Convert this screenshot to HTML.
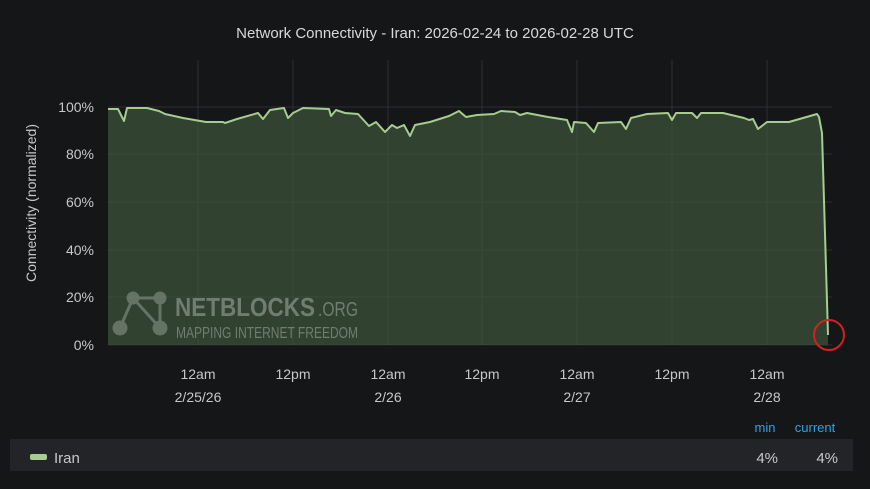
<!DOCTYPE html>
<html><head><style>
body{margin:0;background:#151618;width:870px;height:489px;overflow:hidden;font-family:"Liberation Sans",sans-serif;}
</style></head><body>
<svg width="870" height="489" xmlns="http://www.w3.org/2000/svg" style="position:absolute;left:0;top:0">
<rect width="870" height="489" fill="#151618"/>
<text x="435" y="38" fill="#d8d9da" font-size="15" text-anchor="middle">Network Connectivity - Iran: 2026-02-24 to 2026-02-28 UTC</text>
<g stroke="#2e2f33" stroke-width="1">
<line x1="108" y1="107" x2="832" y2="107"/><line x1="108" y1="154" x2="832" y2="154"/><line x1="108" y1="202" x2="832" y2="202"/><line x1="108" y1="250" x2="832" y2="250"/><line x1="108" y1="297" x2="832" y2="297"/><line x1="108" y1="345" x2="832" y2="345"/>
<line x1="198" y1="60" x2="198" y2="345"/><line x1="293" y1="60" x2="293" y2="345"/><line x1="388" y1="60" x2="388" y2="345"/><line x1="482" y1="60" x2="482" y2="345"/><line x1="577" y1="60" x2="577" y2="345"/><line x1="672" y1="60" x2="672" y2="345"/><line x1="767" y1="60" x2="767" y2="345"/>
</g>
<g fill="#c7c8c9" font-size="14" text-anchor="end">
<text x="94" y="112">100%</text><text x="94" y="159">80%</text><text x="94" y="207">60%</text><text x="94" y="255">40%</text><text x="94" y="302">20%</text><text x="94" y="350">0%</text>
</g>
<text transform="translate(36,203) rotate(-90)" fill="#c7c8c9" font-size="14" text-anchor="middle">Connectivity (normalized)</text>
<g fill="#c7c8c9" font-size="14" text-anchor="middle">
<text x="198" y="379">12am</text><text x="198" y="402">2/25/26</text>
<text x="293" y="379">12pm</text>
<text x="388" y="379">12am</text><text x="388" y="402">2/26</text>
<text x="482" y="379">12pm</text>
<text x="577" y="379">12am</text><text x="577" y="402">2/27</text>
<text x="672" y="379">12pm</text>
<text x="767" y="379">12am</text><text x="767" y="402">2/28</text>
</g>
<path fill="#3d563a" fill-opacity="0.7" d="M108,109 L118,109 L124,121 L127,108 L147,108 L159,111 L165,114 L183,118 L206,122 L223,122 L225,123 L237,119 L258,113 L263,119 L270,110 L284,108 L288,118 L293,113 L303,108 L329,109 L331,116 L336,110 L345,113 L358,114 L369,126 L376,122 L385,132 L392,125 L397,128 L404,125 L410,136 L415,125 L430,122 L449,116 L459,111 L466,117 L477,115 L494,114 L501,111 L515,112 L520,115 L527,113 L548,117 L567,120 L572,132 L574,122 L586,123 L594,132 L598,123 L621,122 L626,129 L631,118 L647,114 L668,113 L672,120 L676,113 L692,113 L697,118 L701,113 L723,113 L744,118 L749,120 L753,119 L758,129 L767,122 L789,122 L803,118 L817,114 L819,117 L822,133 L828,335 L828,345 L108,345 Z"/>
<path fill="none" stroke="#a6cc8f" stroke-width="2" stroke-linejoin="round" d="M108,109 L118,109 L124,121 L127,108 L147,108 L159,111 L165,114 L183,118 L206,122 L223,122 L225,123 L237,119 L258,113 L263,119 L270,110 L284,108 L288,118 L293,113 L303,108 L329,109 L331,116 L336,110 L345,113 L358,114 L369,126 L376,122 L385,132 L392,125 L397,128 L404,125 L410,136 L415,125 L430,122 L449,116 L459,111 L466,117 L477,115 L494,114 L501,111 L515,112 L520,115 L527,113 L548,117 L567,120 L572,132 L574,122 L586,123 L594,132 L598,123 L621,122 L626,129 L631,118 L647,114 L668,113 L672,120 L676,113 L692,113 L697,118 L701,113 L723,113 L744,118 L749,120 L753,119 L758,129 L767,122 L789,122 L803,118 L817,114 L819,117 L822,133 L828,335"/>
<g opacity="0.5" fill="#9aa59a" stroke="#9aa59a">
<line x1="133" y1="298" x2="160" y2="298" stroke-width="3"/><line x1="133" y1="298" x2="120" y2="328" stroke-width="3"/><line x1="133" y1="298" x2="160" y2="328" stroke-width="3"/><line x1="160" y1="298" x2="160" y2="328" stroke-width="3"/>
<circle cx="133" cy="298" r="6"/><circle cx="160" cy="298" r="6"/><circle cx="120" cy="328" r="7"/><circle cx="160" cy="328" r="7"/>
</g>
<text x="175" y="316" fill="#9aa59a" opacity="0.6" font-size="26" font-weight="bold" textLength="140" lengthAdjust="spacingAndGlyphs">NETBLOCKS</text>
<text x="318" y="316" fill="#9aa59a" opacity="0.6" font-size="20" textLength="40" lengthAdjust="spacingAndGlyphs">.ORG</text>
<text x="176" y="338" fill="#9aa59a" opacity="0.6" font-size="16" textLength="182" lengthAdjust="spacingAndGlyphs">MAPPING INTERNET FREEDOM</text>
<circle cx="829" cy="335" r="15" fill="none" stroke="#d42020" stroke-width="2"/>
<text x="765" y="432" fill="#33a2e5" font-size="13" text-anchor="middle">min</text>
<text x="815" y="432" fill="#33a2e5" font-size="13" text-anchor="middle">current</text>
<rect x="10" y="439" width="843" height="32" fill="#232427"/>
<rect x="30" y="454" width="17" height="6" rx="2" fill="#a6cc8f"/>
<text x="54" y="463" fill="#c7c8c9" font-size="15">Iran</text>
<text x="778" y="463" fill="#c7c8c9" font-size="15" text-anchor="end">4%</text>
<text x="838" y="463" fill="#c7c8c9" font-size="15" text-anchor="end">4%</text>
</svg>
</body></html>
